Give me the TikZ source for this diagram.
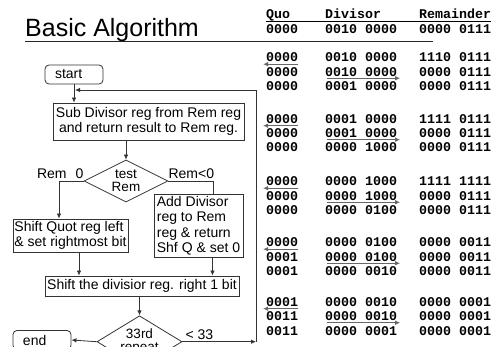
\documentclass[tikz,border=0pt]{standalone}
\usepackage{fontspec}
\setmainfont{Liberation Sans}
\newfontfamily\bitfont{Liberation Mono}
\usetikzlibrary{positioning,arrows.meta,shapes.geometric}

\begin{document}
\begin{tikzpicture}[x=1pt,y=-1pt,
    flow/.style={draw=black!80,line width=0.8pt,inner sep=1.5pt,align=left,
      font=\fontsize{14}{15.5}\selectfont},
    term/.style={flow,rounded corners=4pt,text width=38pt,inner xsep=10pt,
      inner ysep=0pt,minimum height=19pt},
    decide/.style={draw=black!80,line width=0.8pt,diamond,inner sep=-3pt,
      align=center,font=\fontsize{13.5}{13}\selectfont},
    lbl/.style={inner sep=0pt,font=\fontsize{14}{15}\selectfont},
    link/.style={draw=black!80,line width=0.8pt,-{Latex[length=5pt,width=4.5pt]}},
    bits/.style={font=\bitfont\bfseries\fontsize{13.3}{14}\selectfont,
      inner sep=0pt,anchor=west,text height=8pt,text depth=0pt},
    shiftarrow/.style={draw=black!60,line width=1pt,-{Latex[length=5pt,width=4.5pt]}}]
  \useasboundingbox (0,0) rectangle (498,347);
  \clip (0,0) rectangle (498,347);

  % title
  \node[anchor=base west,inner sep=0pt,font=\fontsize{25}{30}\selectfont] (title)
    at (25,37) {Basic Algorithm};
  \draw[line width=1.5pt,black!85] (25,41.7) -- (433,41.7);

  % table of registers
  \node[bits] (hq) at (266,15) {Quo};
  \node[bits] (hd) at (325,15) {Divisor};
  \node[bits] (hr) at (419,15) {Remainder};
  \draw[line width=0.8pt] ([yshift=-2pt]hq.south west) -- ([yshift=-2pt]hr.south east);
  \node[bits] (q0) at (266,30) {0000};
  \node[bits] (d0) at (325,30) {0010 0000};
  \node[bits] (r0) at (419,30) {0000 0111};
  \foreach \g/\y/\qa/\qb/\qc/\da/\db/\dc/\ra/\rb/\rc in {
      1/58/0000/0000/0000/0010 0000/0010 0000/0001 0000/1110 0111/0000 0111/0000 0111,
      2/119.5/0000/0000/0000/0001 0000/0001 0000/0000 1000/1111 0111/0000 0111/0000 0111,
      3/182/0000/0000/0000/0000 1000/0000 1000/0000 0100/1111 1111/0000 0111/0000 0111,
      4/243/0000/0001/0001/0000 0100/0000 0100/0000 0010/0000 0011/0000 0011/0000 0011,
      5/302.5/0001/0011/0011/0000 0010/0000 0010/0000 0001/0000 0001/0000 0001/0000 0001} {
    \node[bits] (q\g-1) at (266,\y) {\qa};
    \node[bits] (d\g-1) at (325,\y) {\da};
    \node[bits] (r\g-1) at (419,\y) {\ra};
    \node[bits] (q\g-2) at (266,\y+14.5) {\qb};
    \node[bits] (d\g-2) at (325,\y+14.5) {\db};
    \node[bits] (r\g-2) at (419,\y+14.5) {\rb};
    \node[bits] (q\g-3) at (266,\y+28.5) {\qc};
    \node[bits] (d\g-3) at (325,\y+28.5) {\dc};
    \node[bits] (r\g-3) at (419,\y+28.5) {\rc};
    \draw[shiftarrow] ([yshift=-2pt]q\g-1.south east)
      -- ([xshift=-3pt,yshift=-2pt]q\g-1.south west);
    \draw[shiftarrow] ([xshift=2pt,yshift=-1.5pt]d\g-2.south west)
      -- ([xshift=3pt,yshift=-1.5pt]d\g-2.south east);
  }

  % flow chart
  \node[term] (start) at (74,74.5) {start};
  \node[flow,align=center,minimum width=191pt,minimum height=37pt] (sub)
    at (148.5,121.5) {Sub Divisor reg from Rem reg\\and return result to Rem reg.};
  \node[decide,minimum width=84pt,minimum height=42pt] (test) at (126,181) {test\\Rem};
  \node[flow,minimum width=115pt,minimum height=33pt] (quot) at (70.5,235.5)
    {Shift Quot reg left\\\& set rightmost bit};
  \node[flow,minimum width=89pt,minimum height=62pt] (add) at (198.5,226)
    {Add Divisor\\reg to Rem\\reg \& return\\Shf Q \& set 0};
  \node[flow,minimum width=194pt,minimum height=20pt] (shift) at (142,286)
    {Shift the divisior reg. right 1 bit};
  \node[decide,minimum width=85pt,minimum height=44pt] (rep) at (139.5,341.7) {33rd\\repeat};
  \node[term] (finish) at (42,340) {end};

  \node[lbl,anchor=base east] (geq) at ([yshift=2pt]test.west) {Rem\hspace{9pt}0};
  \node[lbl,anchor=base west] (lt) at ([yshift=2pt]test.east) {Rem<0};
  \node[lbl,anchor=base west] (lt33) at ([xshift=3pt,yshift=2.7pt]rep.east) {< 33};

  \draw[link] (start) -- (start |- sub.north);
  \draw[link] (sub.south -| test.north) -- (test.north);
  \draw[link] (test.west) -| ([xshift=-11.5pt]quot.north);
  \draw[draw=black!80,line width=0.8pt] (test.east) -| ([xshift=14.5pt]add.north);
  \draw[link] ([xshift=8.5pt]quot.south) -- ([xshift=8.5pt]quot.south |- shift.north);
  \draw[link] ([xshift=14pt]add.south) -- ([xshift=14pt]add.south |- shift.north);
  \draw[link] (shift.south -| rep.north) -- (rep.north);
  \draw[link] (rep.west) -- (finish.east);
  \coordinate (loopbot) at (256,341.7);
  \coordinate (looptop) at (256,90);
  \draw[link] (rep.east) -- (loopbot);
  \draw[link] (loopbot) -- (looptop) -- ([xshift=1pt]start.south |- looptop);
\end{tikzpicture}
\end{document}
